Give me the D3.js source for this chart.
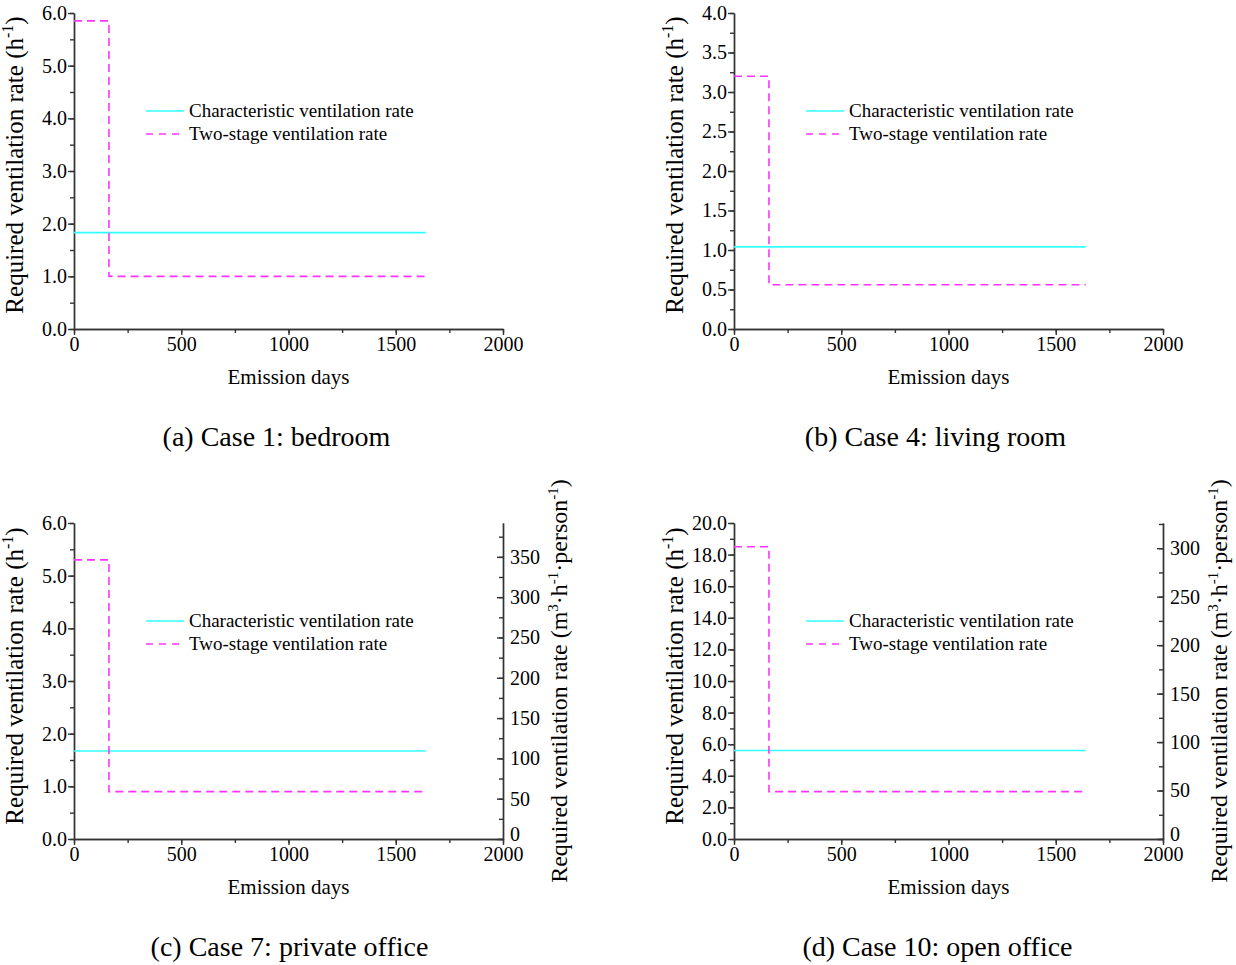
<!DOCTYPE html>
<html><head><meta charset="utf-8">
<script src="https://cdn.jsdelivr.net/npm/d3@7"></script>
<style>body{margin:0;background:#fff}svg{display:block}text{font-family:"Liberation Serif","Times New Roman",serif;fill:#000}</style>
</head><body><svg id="c" width="1236" height="965"></svg>
<script>
const captions = ["(a) Case 1: bedroom","(b) Case 4: living room","(c) Case 7: private office","(d) Case 10: open office"];
const xTicks = [0,500,1000,1500,2000];
const seriesNames = ["Characteristic ventilation rate","Two-stage ventilation rate"];
// step points [day, value]
const charA = [[0,1.83],[1640,1.83]];
const twoA  = [[0,5.85],[163,5.85],[163,1.0],[1640,1.0]];
const charB = [[0,1.04],[1640,1.04]];
const twoB  = [[0,3.2],[163,3.2],[163,0.56],[1640,0.56]];
const charC = [[0,1.67],[1640,1.67]];
const twoC  = [[0,5.3],[163,5.3],[163,0.9],[1640,0.9]];
const charD = [[0,5.6],[1640,5.6]];
const twoD  = [[0,18.5],[163,18.5],[163,3.0],[1640,3.0]];
const yMaxes = [6,4,6,20];
const yMajor = [1,0.5,1,2];
const yMinor = [0.5,0.25,0.5,1];
const rightMax = [null,null,392,326];
const rightTicksC = [0,50,100,150,200,250,300,350];
const rightTicksD = [0,50,100,150,200,250,300];

const svg = d3.select("#c");
const panels = [
 {ox:0,oy:0,ch:charA,tw:twoA,i:0,cx:-12,ly:152},
 {ox:660,oy:0,ch:charB,tw:twoB,i:1,cx:-13,ly:152},
 {ox:0,oy:510,ch:charC,tw:twoC,i:2,cx:1,ly:153},
 {ox:660,oy:510,ch:charD,tw:twoD,i:3,cx:-11,ly:153}
];
const W = 429, H = 316, L = 74, T = 13;
const AX = "#333";
panels.forEach(p=>{
  const g = svg.append("g").attr("transform",`translate(${p.ox+L},${p.oy+T})`);
  const x = d3.scaleLinear().domain([0,2000]).range([0,W]);
  const y = d3.scaleLinear().domain([0,yMaxes[p.i]]).range([H,0]);
  const fmtY = d3.format(".1f");
  // minor ticks
  g.append("g").attr("transform",`translate(0,${H})`).attr("class","ax")
   .call(d3.axisBottom(x).tickValues(d3.range(0,2001,250)).tickFormat("").tickSize(4).tickSizeOuter(0));
  g.append("g").attr("class","ax")
   .call(d3.axisLeft(y).tickValues(d3.range(0,yMaxes[p.i]+1e-9,yMinor[p.i])).tickFormat("").tickSize(4).tickSizeOuter(0));
  g.append("g").attr("transform",`translate(0,${H})`).attr("class","ax lab")
   .call(d3.axisBottom(x).tickValues(xTicks).tickFormat(d3.format("d")).tickSize(6).tickPadding(2).tickSizeOuter(0));
  g.append("g").attr("class","ax lab")
   .call(d3.axisLeft(y).tickValues(d3.range(0,yMaxes[p.i]+1e-9,yMajor[p.i])).tickFormat(fmtY).tickSize(6).tickPadding(1).tickSizeOuter(0));
  if(rightMax[p.i]){
    const yr = d3.scaleLinear().domain([0,rightMax[p.i]]).range([H,0]);
    const rt = p.i===2?rightTicksC:rightTicksD;
    g.append("g").attr("transform",`translate(${W},0)`).attr("class","ax")
     .call(d3.axisRight(yr).tickValues(d3.range(0,rightMax[p.i],25)).tickFormat("").tickSize(-4).tickSizeOuter(0));
    g.append("g").attr("transform",`translate(${W},0)`).attr("class","ax lab")
     .call(d3.axisRight(yr).tickValues(rt).tickFormat(d3.format("d")).tickSize(-6).tickPadding(7).tickSizeOuter(0))
     .selectAll("text").attr("dy", d=> d===0 ? "0.05em":"0.32em");
    const rl = g.append("text").attr("transform",`translate(${W+64},${H/2}) rotate(-90)`)
      .attr("text-anchor","middle").style("font-size","24px");
    rl.append("tspan").text("Required ventilation rate (m");
    rl.append("tspan").text("3").attr("dy","-9").style("font-size","15px");
    rl.append("tspan").text("·h").attr("dy","9");
    rl.append("tspan").text("-1").attr("dy","-9").style("font-size","15px");
    rl.append("tspan").text("·person").attr("dy","9");
    rl.append("tspan").text("-1").attr("dy","-9").style("font-size","15px");
    rl.append("tspan").text(")").attr("dy","9");
  }
  g.selectAll(".ax path, .ax line").attr("stroke",AX).attr("stroke-width",1.4);
  g.selectAll(".ax text").style("font-size","20px").style("font-family","Liberation Serif").attr("fill","#000");
  // y label
  const yl = g.append("text").attr("transform",`translate(-51,${p.ly}) rotate(-90)`)
    .attr("text-anchor","middle").style("font-size","25px");
  yl.append("tspan").text("Required ventilation rate (h");
  yl.append("tspan").text("-1").attr("dy","-10").style("font-size","16px");
  yl.append("tspan").text(")").attr("dy","10");
  // x label
  g.append("text").attr("x",W/2).attr("y",H+55).attr("text-anchor","middle").style("font-size","21px").text("Emission days");
  // caption
  g.append("text").attr("x",W/2+p.cx).attr("y",H+117).attr("text-anchor","middle").style("font-size","28px").text(captions[p.i]);
  // lines
  const line = d3.line().x(d=>x(d[0])).y(d=>y(d[1]));
  g.append("path").attr("d",line(p.ch)).attr("fill","none").attr("stroke","#33ffff").attr("stroke-width",1.6);
  g.append("path").attr("d",line(p.tw)).attr("fill","none").attr("stroke","#ff33ff").attr("stroke-width",1.6).attr("stroke-dasharray","8,5");
  // legend
  const lg = g.append("g").attr("transform","translate(72,98)");
  [0,1].forEach(k=>{
    lg.append("line").attr("x1",0).attr("x2",38).attr("y1",k*23).attr("y2",k*23)
      .attr("stroke",k?"#ff33ff":"#33ffff").attr("stroke-width",1.6).attr("stroke-dasharray",k?"7,6":null);
    lg.append("text").attr("x",43).attr("y",k*23+6).style("font-size","19px").text(seriesNames[k]);
  });
});
</script></body></html>
